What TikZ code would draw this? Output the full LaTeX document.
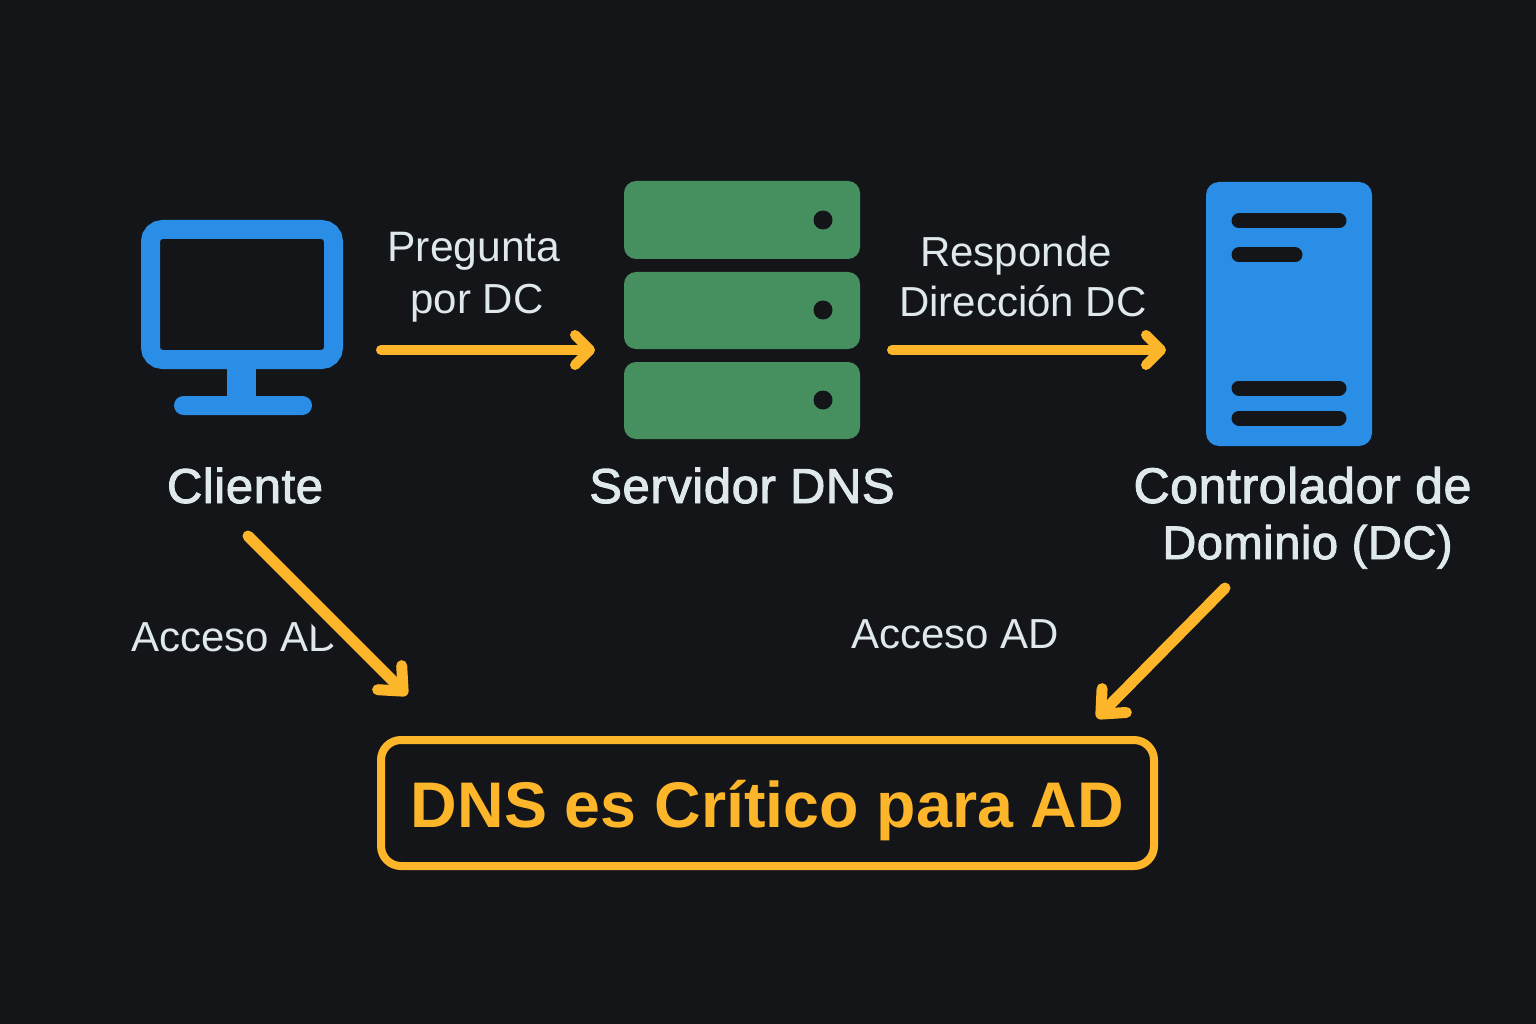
\documentclass[tikz,border=0pt]{standalone}
\usepackage{fontspec}
\setmainfont{Liberation Sans}
\newfontfamily\medfont[FakeBold=2,LetterSpace=1.2]{Liberation Sans}
\usetikzlibrary{arrows.meta}
\definecolor{bgdark}{HTML}{131518}
\definecolor{iconblue}{HTML}{2A8DE6}
\definecolor{servgreen}{HTML}{468F5F}
\definecolor{ambar}{HTML}{FDB52A}
\definecolor{paletext}{HTML}{DFE8EA}
\tikzset{
  caption/.style={anchor=base,inner sep=0pt,text=paletext,font=\medfont\fontsize{49}{56}\selectfont},
  flowlabel/.style={anchor=base,inner sep=0pt,text=paletext,font=\fontsize{42}{50}\selectfont},
  flow/.style={draw=ambar,line width=10pt,line cap=round,line join=round,
    -{Straight Barb[length=15pt,width=30pt,line width=10pt,round]}},
  diagflow/.style={draw=ambar,line width=11pt,line cap=round,line join=round,
    -{Straight Barb[length=19pt,width=34pt,line width=11pt,round]}},
  halo/.style={draw=bgdark,line width=34pt},
  slab/.style={fill=servgreen,rounded corners=12pt,inner sep=0pt,minimum width=236pt,minimum height=78pt},
  led/.style={circle,fill=bgdark,inner sep=0pt,minimum size=19pt},
  bar/.style={draw=bgdark,line width=15pt,line cap=round},
}
\begin{document}
\begin{tikzpicture}[x=1pt,y=-1pt]
\useasboundingbox (0,0) rectangle (1536,1024);
\fill[bgdark] (0,0) rectangle (1536,1024);

% client monitor
\node[draw=iconblue,line width=19pt,rounded corners=12pt,inner sep=0pt,outer sep=0pt,minimum width=183pt,minimum height=130pt] (screen) at (242,294.5) {};
\fill[iconblue] (227,360) rectangle (256,400);
\node[fill=iconblue,rounded corners=9.5pt,inner sep=0pt,minimum width=138pt,minimum height=19pt] (stand) at (243,405.5) {};
\node[caption] (cliente) at (245,503) {Cliente};

% DNS server
\node[slab] (s1) at (742,220) {};
\node[slab,minimum height=77pt] (s2) at (742,310.5) {};
\node[slab,minimum height=77pt] (s3) at (742,400.5) {};
\node[led] (d1) at (823,220) {};
\node[led] (d2) at (823,310) {};
\node[led] (d3) at (823,400) {};
\node[caption] (servidor) at (742,503) {Servidor DNS};

% domain controller
\node[fill=iconblue,rounded corners=13pt,inner sep=0pt,minimum width=166pt,minimum height=264pt] (tower) at (1289,314) {};
\draw[bar] (1239,221) -- (1339,221);
\draw[bar] (1239,255) -- (1295,255);
\draw[bar] (1239,388) -- (1339,388);
\draw[bar] (1239,418) -- (1339,418);
\node[caption] (dc1) at (1302.5,503) {\fontsize{50}{56}\selectfont Controlador de};
\node[caption] (dc2) at (1307.5,559) {\fontsize{47}{56}\selectfont Dominio (DC)};

% labels
\node[flowlabel] (q1) at (474,261.5) {\fontsize{42.6}{50}\selectfont Pregunta};
\node[flowlabel] (q2) at (477,313) {por DC};
\node[flowlabel] (r1) at (1016,266.5) {Responde};
\node[flowlabel] (r2) at (1023,316.5) {Dirección DC};
\node[flowlabel] (a1) at (235.5,651) {Acceso AD};
\node[flowlabel] (a2) at (955,648) {Acceso AD};

% connector anchors
\coordinate (c1a) at (381,350);
\coordinate (c1b) at (595,350);
\coordinate (c2a) at (892,350);
\coordinate (c2b) at (1166,350);
\coordinate (c3a) at (248,536);
\coordinate (c3b) at (407,695);
\coordinate (c4a) at (1225,588);
\coordinate (c4b) at (1097,718);

% connectors
\draw[halo] (c3a) -- (c3b);
\draw[flow] (c1a) -- (c1b);
\draw[flow] (c2a) -- (c2b);
\draw[diagflow] (c3a) -- (c3b);
\draw[diagflow] (c4a) -- (c4b);

% banner
\node[draw=ambar,line width=8pt,rounded corners=20pt,inner sep=0pt,outer sep=0pt,minimum width=773pt,minimum height=126pt] (banner) at (767.5,803) {};
\node[anchor=base,inner sep=0pt,text=ambar,font=\bfseries\fontsize{64.5}{70}\selectfont] (bannertext) at (767.5,827) {DNS es Crítico para AD};
\end{tikzpicture}
\end{document}
